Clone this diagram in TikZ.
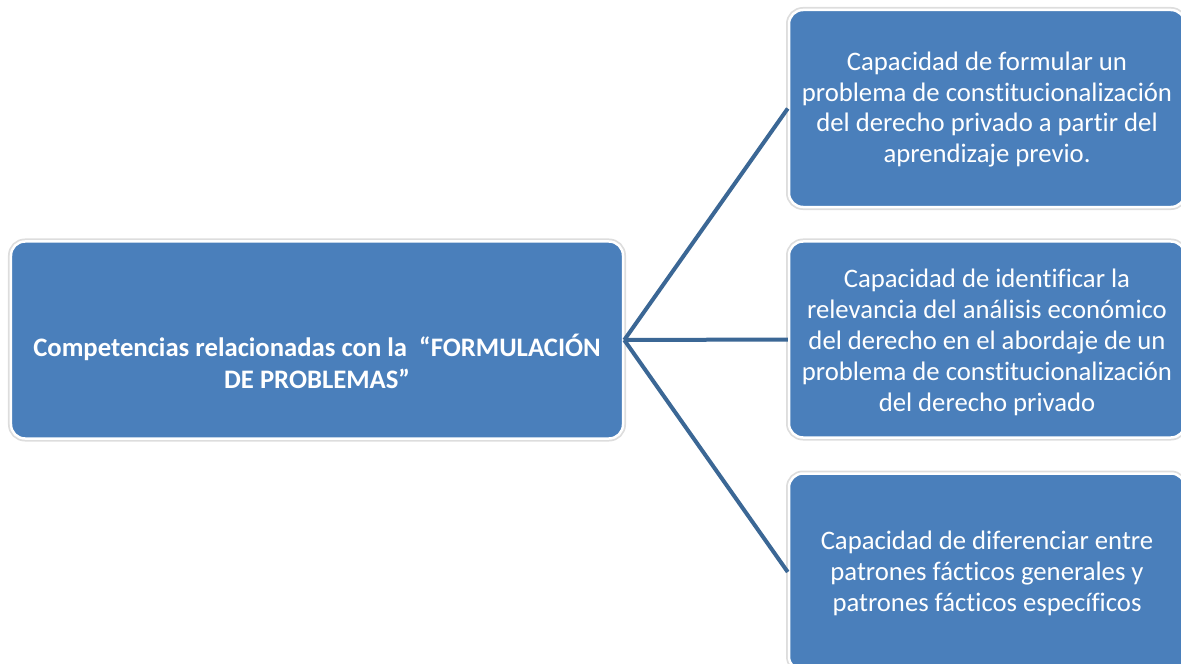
\documentclass[tikz,border=0pt]{standalone}
\usepackage{fontspec}
\setmainfont{Carlito}[Ligatures={NoCommon}]
\usetikzlibrary{positioning}

\definecolor{boxblue}{HTML}{4A7FBB}
\definecolor{lineblue}{HTML}{3B6795}
\definecolor{glow}{HTML}{DDDDDD}

\begin{document}
\begin{tikzpicture}[x=1bp, y=-1bp,
  box/.style={fill=boxblue, draw=white, line width=2.5bp, rounded corners=14bp,
    inner sep=0pt, preaction={draw=glow, line width=6bp}},
  boxtext/.style={text=white, align=center, inner sep=0pt,
    font=\fontsize{26.8}{31}\selectfont},
  link/.style={draw=lineblue, line width=4bp}]
  \useasboundingbox (0,0) rectangle (1181,664);

  % Left box
  \node[box, minimum width=612bp, minimum height=197bp] (comp) at (317,340) {};
  \node[boxtext, font=\fontsize{26.8}{32}\selectfont\bfseries]
    at ([yshift=-21bp]comp.center)
    {Competencias relacionadas con la \ “FORMULACIÓN\\ DE PROBLEMAS”};

  % Right boxes
  \node[box, minimum width=396bp, minimum height=197bp] (formular) at (987,108.5) {};
  \node[boxtext] at ([yshift=-1bp]formular.center)
    {Capacidad de formular un\\ problema de constitucionalización\\
     del derecho privado a partir del\\ aprendizaje previo.};

  \node[box, minimum width=396bp, minimum height=196bp] (analisis) at (987,339.5) {};
  \node[boxtext] at ([yshift=-3bp]analisis.center)
    {Capacidad de identificar la\\ relevancia del análisis económico\\
     del derecho en el abordaje de un\\ problema de constitucionalización\\
     del derecho privado};

  \node[box, minimum width=396bp, minimum height=197bp] (patrones) at (987,572) {};
  \node[boxtext] at ([yshift=-1bp]patrones.center)
    {Capacidad de diferenciar entre\\ patrones fácticos generales y\\
     patrones fácticos específicos};

  % Connectors
  \draw[link] (comp.east) -- (formular.west);
  \draw[link] (comp.east) -- (analisis.west);
  \draw[link] (comp.east) -- (patrones.west);
\end{tikzpicture}
\end{document}
